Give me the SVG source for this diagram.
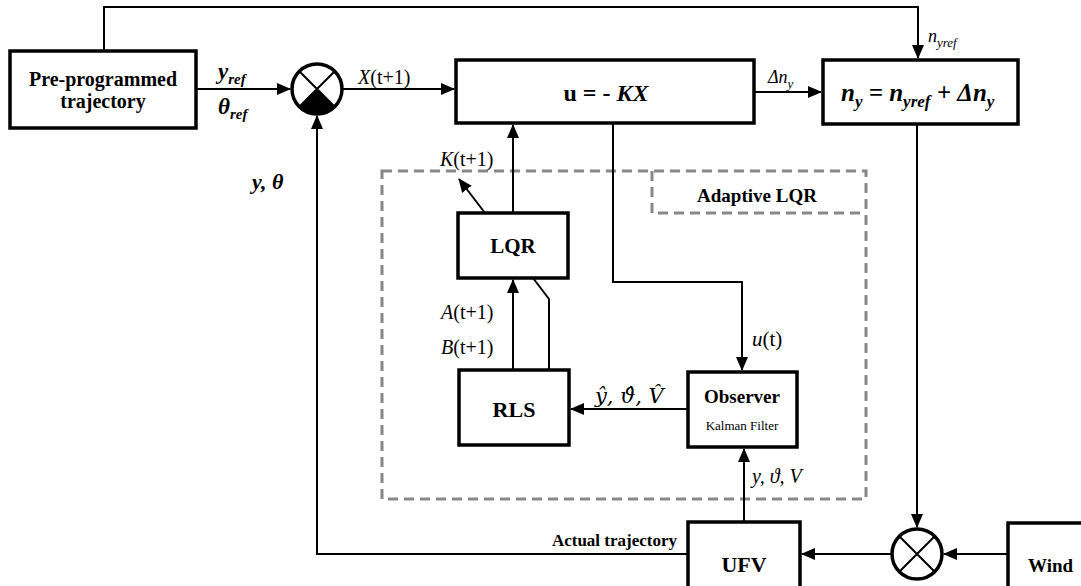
<svg xmlns="http://www.w3.org/2000/svg" width="1081" height="586" viewBox="0 0 1081 586">
<style>
.box{fill:#fff;stroke:#000;stroke-width:3.5}
.ln{fill:none;stroke:#000;stroke-width:2}
.dash{fill:none;stroke:#888;stroke-width:3;stroke-dasharray:10 6}
</style>
<defs>
<marker id="ah" markerWidth="14" markerHeight="12" refX="13" refY="6" orient="auto" markerUnits="userSpaceOnUse">
<path d="M0,0 L14,6 L0,12 Z" fill="#000"/>
</marker>
</defs>
<rect width="1081" height="586" fill="#fff"/>

<g id="adaptive-lqr-frame">
<path class="dash" d="M382,171 H866 V499 H382 Z"/>
<path class="dash" d="M652,171 V213 H866"/>
<text style="font-family:'Liberation Serif',serif" font-weight="bold" text-anchor="middle" x="757" y="202" font-size="19">Adaptive LQR</text>
</g>

<g id="connectors">
<path class="ln" d="M104,51 V7 H918 V58" marker-end="url(#ah)"/>
<path class="ln" d="M196,89 H290" marker-end="url(#ah)"/>
<path class="ln" d="M343,89 H454" marker-end="url(#ah)"/>
<path class="ln" d="M754,92 H821" marker-end="url(#ah)"/>
<path class="ln" d="M917,124 V527" marker-end="url(#ah)"/>
<path class="ln" d="M1008,554 H944" marker-end="url(#ah)"/>
<path class="ln" d="M891,554 H802" marker-end="url(#ah)"/>
<path class="ln" d="M688,554 H317 V116" marker-end="url(#ah)"/>
<path class="ln" d="M513,213 V125" marker-end="url(#ah)"/>
<path class="ln" d="M485,213 L459,179" marker-end="url(#ah)"/>
<path class="ln" d="M513,370 V280" marker-end="url(#ah)"/>
<path class="ln" d="M549,370 V299 L533,278"/>
<path class="ln" d="M613,123 V282 H742 V370" marker-end="url(#ah)"/>
<path class="ln" d="M688,409 H571" marker-end="url(#ah)"/>
<path class="ln" d="M744,522 V449" marker-end="url(#ah)"/>
</g>

<g id="pre-programmed">
<rect class="box" x="10" y="51" width="186" height="77"/>
<text style="font-family:'Liberation Serif',serif" font-weight="bold" text-anchor="middle" x="103" y="86" font-size="20">Pre-programmed</text>
<text style="font-family:'Liberation Serif',serif" font-weight="bold" text-anchor="middle" x="103" y="108" font-size="20">trajectory</text>
</g>
<g id="ref-labels">
<text style="font-family:'Liberation Serif',serif" font-weight="bold" font-style="italic" x="218" y="79" font-size="23">y<tspan font-size="15" dy="5">ref</tspan></text>
<text style="font-family:'Liberation Serif',serif" font-weight="bold" font-style="italic" x="218" y="114" font-size="23">θ<tspan font-size="15" dy="5">ref</tspan></text>
</g>

<g id="sum1">
<path d="M317,89 L299.3,106.7 A25,25 0 0 0 334.7,106.7 Z" fill="#000"/>
<circle cx="317" cy="89" r="25" fill="none" stroke="#000" stroke-width="3.5"/>
<path class="ln" d="M299.3,71.3 L334.7,106.7 M334.7,71.3 L299.3,106.7"/>
</g>
<text style="font-family:'Liberation Serif',serif" font-style="italic" x="358" y="84" font-size="20">X<tspan font-style="normal">(t+1)</tspan></text>

<g id="controller">
<rect class="box" x="456" y="60" width="298" height="63"/>
<text style="font-family:'Liberation Serif',serif" font-weight="bold" text-anchor="middle" x="606" y="101" font-size="24">u = - <tspan font-style="italic">KX</tspan></text>
</g>
<text style="font-family:'Liberation Serif',serif" font-style="italic" x="768" y="83" font-size="18">Δn<tspan font-size="13" dy="5">y</tspan></text>

<g id="ny-box">
<rect class="box" x="823" y="60" width="195" height="64"/>
<text style="font-family:'Liberation Serif',serif" font-weight="bold" font-style="italic" x="841" y="101" font-size="25">n<tspan font-size="17" dy="6">y</tspan><tspan dy="-6"> = n</tspan><tspan font-size="17" dy="6">yref</tspan><tspan dy="-6"> + Δn</tspan><tspan font-size="17" dy="6">y</tspan></text>
</g>
<text style="font-family:'Liberation Serif',serif" font-style="italic" x="928" y="42" font-size="18">n<tspan font-size="13" dy="5">yref</tspan></text>

<text style="font-family:'Liberation Serif',serif" font-weight="bold" font-style="italic" x="252" y="189" font-size="22">y,  θ</text>
<text style="font-family:'Liberation Serif',serif" font-style="italic" x="440" y="166" font-size="20">K<tspan font-style="normal">(t+1)</tspan></text>

<g id="lqr">
<rect class="box" x="458" y="213" width="110" height="65"/>
<text style="font-family:'Liberation Serif',serif" font-weight="bold" text-anchor="middle" x="513" y="253" font-size="21">LQR</text>
</g>
<text style="font-family:'Liberation Serif',serif" font-style="italic" x="441" y="319" font-size="20">A<tspan font-style="normal">(t+1)</tspan></text>
<text style="font-family:'Liberation Serif',serif" font-style="italic" x="441" y="354" font-size="20">B<tspan font-style="normal">(t+1)</tspan></text>

<g id="rls">
<rect class="box" x="459" y="370" width="110" height="75"/>
<text style="font-family:'Liberation Serif',serif" font-weight="bold" text-anchor="middle" x="514" y="417" font-size="22">RLS</text>
</g>

<g id="observer">
<rect class="box" x="688" y="372" width="109" height="75"/>
<text style="font-family:'Liberation Serif',serif" font-weight="bold" text-anchor="middle" x="742" y="403" font-size="19">Observer</text>
<text style="font-family:'Liberation Serif',serif" text-anchor="middle" x="742" y="430" font-size="13">Kalman Filter</text>
</g>
<text style="font-family:'DejaVu Serif',serif" font-style="italic" x="595" y="403" font-size="21">ŷ, ϑ̂, V̂</text>
<text style="font-family:'Liberation Serif',serif" font-style="italic" x="752" y="346" font-size="21">u<tspan font-style="normal">(t)</tspan></text>
<text style="font-family:'Liberation Serif',serif" font-style="italic" x="752" y="483" font-size="20">y,  ϑ,  V</text>

<g id="ufv">
<rect class="box" x="688" y="522" width="112" height="80"/>
<text style="font-family:'Liberation Serif',serif" font-weight="bold" text-anchor="middle" x="744" y="572" font-size="22">UFV</text>
</g>
<text style="font-family:'Liberation Serif',serif" font-weight="bold" text-anchor="end" x="677" y="546" font-size="17">Actual trajectory</text>

<g id="sum2">
<circle cx="917" cy="554" r="25" fill="#fff" stroke="#000" stroke-width="3.5"/>
<path class="ln" d="M899.3,536.3 L934.7,571.7 M934.7,536.3 L899.3,571.7"/>
</g>

<g id="wind">
<rect class="box" x="1008" y="523" width="90" height="80"/>
<text style="font-family:'Liberation Serif',serif" font-weight="bold" x="1028" y="572" font-size="19">Wind</text>
</g>
</svg>
